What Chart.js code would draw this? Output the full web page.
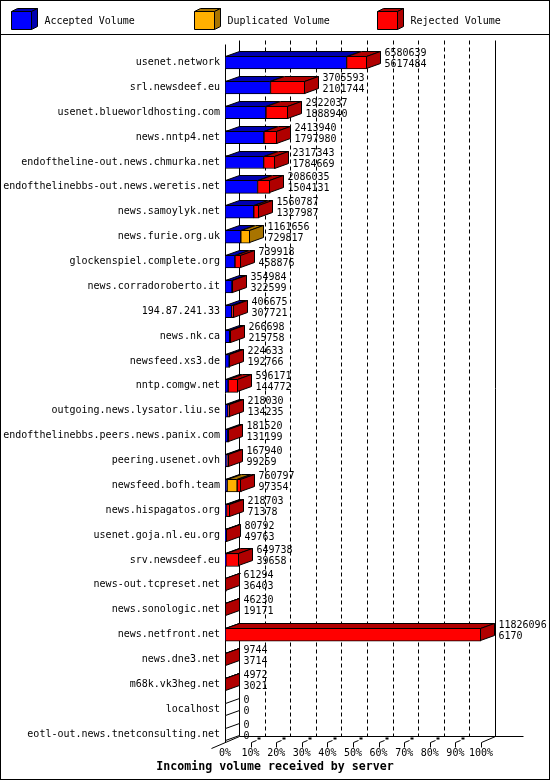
<!DOCTYPE html>
<html>
<head>
<meta charset="utf-8">
<script src="https://cdn.jsdelivr.net/npm/chart.js@4.4.1/dist/chart.umd.min.js"></script>
<style>
  html, body { margin: 0; padding: 0; background: #fff; }
  canvas { display: block; }
</style>
</head>
<body>
<canvas id="volChart" width="550" height="780"></canvas>
<script>
/*
   DATA
 */
const hosts = [
    'usenet.network', 'srl.newsdeef.eu', 'usenet.blueworldhosting.com', 'news.nntp4.net',
    'endoftheline-out.news.chmurka.net', 'endofthelinebbs-out.news.weretis.net', 'news.samoylyk.net',
    'news.furie.org.uk', 'glockenspiel.complete.org', 'news.corradoroberto.it', '194.87.241.33',
    'news.nk.ca', 'newsfeed.xs3.de', 'nntp.comgw.net', 'outgoing.news.lysator.liu.se',
    'endofthelinebbs.peers.news.panix.com', 'peering.usenet.ovh', 'newsfeed.bofh.team',
    'news.hispagatos.org', 'usenet.goja.nl.eu.org', 'srv.newsdeef.eu', 'news-out.tcpreset.net',
    'news.sonologic.net', 'news.netfront.net', 'news.dne3.net', 'm68k.vk3heg.net',
    'localhost', 'eotl-out.news.tnetconsulting.net'
];
const totals = [
    6580639, 3705593, 2922037, 2413940, 2317343, 2086035, 1560787, 1161656, 739918, 354984,
    406675, 266698, 224633, 596171, 218030, 181520, 167940, 760797, 218703, 80792,
    649738, 61294, 46230, 11826096, 9744, 4972, 0, 0
];
const accepted = [
    5617484, 2101744, 1888940, 1797980, 1784669, 1504131, 1327987, 729817, 458876, 322599,
    307721, 215758, 192766, 144772, 134235, 131199, 99259, 97354, 71378, 49763,
    39658, 36403, 19171, 6170, 3714, 3021, 0, 0
];
const duplicated = [
    0, 0, 0, 0, 0, 0, 0, 431839, 0, 0,
    0, 0, 0, 0, 0, 0, 0, 462000, 0, 0,
    0, 0, 0, 0, 0, 0, 0, 0
];
const rejected = [
    963155, 1603849, 1033097, 615960, 532674, 581904, 232800, 0, 281042, 32385,
    98954, 50940, 31867, 451399, 83795, 50321, 68681, 201443, 147325, 31029,
    610080, 24891, 27059, 11819926, 6030, 1951, 0, 0
];
const tickPct    = [0, 10, 20, 30, 40, 50, 60, 70, 80, 90, 100];
const tickLabels = ['0%', '10%', '20%', '30%', '40%', '50%', '60%', '70%', '80%', '90%', '100%'];
const seriesNames = ['Accepted Volume', 'Duplicated Volume', 'Rejected Volume'];
const chartTitle  = 'Incoming volume received by server';

const faceColors = ['#0000ff', '#ffb000', '#ff0000'];
const sideColors = ['#0000b0', '#a87400', '#b00000'];

const MONO = '"DejaVu Sans Mono", "Liberation Mono", monospace';
const DX = 14, DY = 5;          // depth of the 3D boxes
const maxTotal = Math.max(...totals);

function poly(ctx, pts, fill) {
    ctx.beginPath();
    ctx.moveTo(pts[0][0], pts[0][1]);
    for (let k = 1; k < pts.length; k++) ctx.lineTo(pts[k][0], pts[k][1]);
    ctx.closePath();
    if (fill) { ctx.fillStyle = fill; ctx.fill(); }
    ctx.strokeStyle = '#000';
    ctx.lineWidth = 1;
    ctx.stroke();
}

function line(ctx, x1, y1, x2, y2) {
    ctx.beginPath();
    ctx.moveTo(x1, y1);
    ctx.lineTo(x2, y2);
    ctx.stroke();
}

/*
   3D DECORATION PLUGIN
 */
const box3d = {
    id: 'box3d',
    beforeDraw(chart) {
        const ctx = chart.ctx;
        ctx.save();
        ctx.fillStyle = '#fff';
        ctx.fillRect(0, 0, chart.width, chart.height);
        ctx.restore();
    },
    beforeDatasetsDraw(chart) {
        const ctx = chart.ctx, xs = chart.scales.x, a = chart.chartArea;
        const left = Math.round(a.left) + 0.5;
        const right = Math.round(a.right) + 0.5;
        const floorFront = Math.round(a.bottom - 5) + 0.5;
        const floorBack = floorFront - 6;
        const topBack = Math.round(a.top) - 9.5;

        ctx.save();
        ctx.strokeStyle = '#000';
        ctx.lineWidth = 1;

        // back wall grid
        xs.ticks.forEach((t, i) => {
            const xb = Math.round(xs.getPixelForValue(t.value)) + DX + 0.5;
            ctx.setLineDash(i === 0 || i === xs.ticks.length - 1 ? [] : [4, 3]);
            line(ctx, xb, topBack, xb, floorBack);
        });
        ctx.setLineDash([]);

        // left wall front edge
        line(ctx, left, topBack + 4, left, floorFront);

        // floor
        line(ctx, left + DX, floorBack, right + 42, floorBack);
        line(ctx, left - 14, floorFront + 6, left + DX, floorBack);
        line(ctx, right, floorFront, right + DX, floorBack);

        xs.ticks.forEach((t, i) => {
            if (i === 0) return;
            const x = Math.round(xs.getPixelForValue(t.value)) + 0.5;
            line(ctx, x, floorFront + 5, x, floorFront);
            if (i < xs.ticks.length - 1) {
                line(ctx, x, floorFront, x + 5, floorFront - 2);
                ctx.fillStyle = '#000';
                ctx.fillRect(x + 6, floorBack + 1, 3, 2);
            }
        });
        ctx.restore();
    },
    afterDatasetsDraw(chart) {
        const ctx = chart.ctx, xs = chart.scales.x;
        const metas = [0, 1, 2].map(d => chart.getDatasetMeta(d));
        const series = chart.data.datasets.map(ds => ds.data);
        ctx.save();
        hosts.forEach((h, i) => {
            let lastSeg = -1;
            let y0 = 0, y1 = 0;
            const xStart = Math.round(xs.getPixelForValue(0)) + 0.5;
            metas.forEach((m, d) => {
                const el = m.data[i];
                const p = el.getProps(['x', 'y', 'base', 'height'], true);
                y0 = Math.round(p.y - p.height / 2) + 0.5;
                y1 = Math.round(p.y + p.height / 2) - 0.5;
                if (!series[d][i]) return;
                const xa = Math.round(Math.min(p.base, p.x)) + 0.5;
                const xb = Math.max(xa, Math.round(Math.max(p.base, p.x)) - 0.5);
                poly(ctx, [[xa, y0], [xb, y0], [xb + DX, y0 - DY], [xa + DX, y0 - DY]], sideColors[d]);
                lastSeg = d;
            });
            // side face
            const xe = Math.max(Math.round(xs.getPixelForValue(totals[i])) - 0.5, xStart);
            if (lastSeg >= 0) {
                poly(ctx, [[xe, y0], [xe + DX, y0 - DY], [xe + DX, y1 - DY], [xe, y1]], sideColors[lastSeg]);
            } else {
                poly(ctx, [[xStart, y0], [xStart + DX, y0 - DY], [xStart + DX, y1 - DY], [xStart, y1]], '#fff');
            }
            // value labels
            const cy = (y0 + y1) / 2;
            const lx = xe + DX + 4;
            ctx.fillStyle = '#000';
            ctx.font = '10px ' + MONO;
            ctx.textAlign = 'left';
            ctx.textBaseline = 'middle';
            ctx.fillText(String(totals[i]), lx, cy - 9.5);
            ctx.fillText(String(accepted[i]), lx, cy + 1.5);
        });
        ctx.restore();
    },
    afterDraw(chart) {
        const ctx = chart.ctx;
        ctx.save();
        ctx.strokeStyle = '#000';
        ctx.lineWidth = 1;

        // legend with little cubes
        const cubeX = [11, 194, 377];
        seriesNames.forEach((name, d) => {
            const x = cubeX[d] + 0.5, y = 11.5, w = 20, hgt = 18;
            poly(ctx, [[x, y], [x + 6, y - 3], [x + w + 6, y - 3], [x + w, y]], sideColors[d]);
            poly(ctx, [[x + w, y], [x + w + 6, y - 3], [x + w + 6, y + hgt - 3], [x + w, y + hgt]], sideColors[d]);
            poly(ctx, [[x, y], [x + w, y], [x + w, y + hgt], [x, y + hgt]], faceColors[d]);
            ctx.fillStyle = '#000';
            ctx.font = '10px ' + MONO;
            ctx.textAlign = 'left';
            ctx.textBaseline = 'middle';
            ctx.fillText(name, cubeX[d] + 33.5, 21);
        });
        line(ctx, 0, 34.5, chart.width, 34.5);

        // title
        ctx.fillStyle = '#000';
        ctx.font = 'bold 11.6px ' + MONO;
        ctx.textAlign = 'center';
        ctx.textBaseline = 'middle';
        ctx.fillText(chartTitle, chart.width / 2, 767);

        // frame
        ctx.strokeRect(0.5, 0.5, chart.width - 1, chart.height - 1);
        ctx.restore();
    }
};

/*
   CHART
 */
const barStyle = d => ({
    backgroundColor: faceColors[d],
    borderColor: '#000',
    borderWidth: 1,
    borderSkipped: false,
    barThickness: 13,
    stack: 'vol'
});

new Chart(document.getElementById('volChart'), {
    type: 'bar',
    data: {
        labels: hosts,
        datasets: [
            { label: seriesNames[0], data: accepted,   ...barStyle(0) },
            { label: seriesNames[1], data: duplicated, ...barStyle(1) },
            { label: seriesNames[2], data: rejected,   ...barStyle(2) }
        ]
    },
    options: {
        indexAxis: 'y',
        responsive: false,
        animation: false,
        devicePixelRatio: 1,
        layout: { padding: { top: 50.1, left: 0, right: 69, bottom: 0 } },
        plugins: {
            legend: { display: false },
            title: { display: false },
            tooltip: { enabled: false }
        },
        scales: {
            x: {
                stacked: true,
                min: 0,
                max: maxTotal,
                grid: { display: false, drawTicks: false },
                border: { display: false },
                afterBuildTicks: s => { s.ticks = tickPct.map(p => ({ value: p / 100 * maxTotal })); },
                afterFit: s => { s.height = 33.5; },
                ticks: {
                    autoSkip: false,
                    maxRotation: 0,
                    minRotation: 0,
                    padding: 1,
                    color: '#000',
                    font: { family: MONO, size: 10 },
                    callback: (v, i) => tickLabels[i]
                }
            },
            y: {
                stacked: true,
                grid: { display: false, drawTicks: false },
                border: { display: false },
                afterFit: s => { s.width = 225; },
                ticks: {
                    autoSkip: false,
                    padding: 5,
                    color: '#000',
                    font: { family: MONO, size: 10 }
                }
            }
        }
    },
    plugins: [box3d]
});
</script>
</body>
</html>
